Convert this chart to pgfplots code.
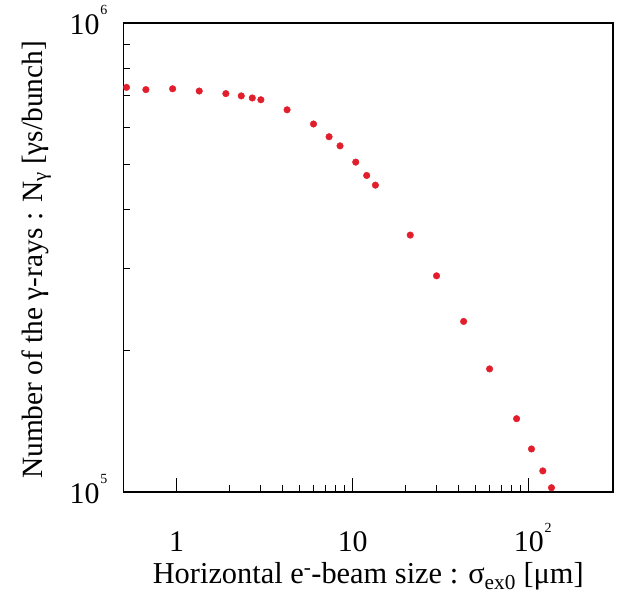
\documentclass[border=0pt]{standalone}
\usepackage{fontspec}
\setmainfont{Liberation Serif}
\usepackage{pgfplots}
\pgfplotsset{compat=1.18}
\definecolor{ptred}{RGB}{227,30,44}
\newcommand{\sups}[1]{\kern0.8bp\raisebox{0.66em}{\fontsize{14}{14}\selectfont #1}}
\begin{document}
\begin{tikzpicture}
\useasboundingbox (-123.5bp,-113bp) rectangle (494.5bp,492bp);
\begin{axis}[
  xmode=log, ymode=log,
  scale only axis,
  width=489.5bp, height=469bp,
  xmin=0.5, xmax=300,
  ymin=1e5, ymax=1e6,
  axis line style={line width=1.4bp, black},
  tick style={black, line width=0.9bp},
  major tick length=14bp,
  minor tick length=7bp,
  tick pos=left,
  tick align=inside,
  xtick={1,10,100},
  xticklabels={1,10,10\rlap{\sups{2}}},
  ytick={1e5,1e6},
  yticklabels={10\sups{5},10\sups{6}},
  xticklabel style={anchor=base, inner sep=0pt, text depth=0pt, yshift=-60bp, font=\fontsize{30}{31}\selectfont},
  yticklabel style={anchor=base east, inner sep=0pt, xshift=-16bp, yshift=-11.5bp, font=\fontsize{30}{31}\selectfont},
  xlabel={Horizontal e\textsuperscript{-}-beam size : σ\textsubscript{ex0} [μm]},
  ylabel={Number of the γ-rays : N\textsubscript{γ} [γs/bunch]},
  xlabel style={at={(axis description cs:0.5,-0.196)}, anchor=base, inner sep=0pt, text height=0.7em, font=\fontsize{30.5}{31}\selectfont},
  ylabel style={at={(axis description cs:-0.1645,0.495)}, anchor=base, inner sep=0pt, font=\fontsize{29.5}{31}\selectfont},
  clip=false,
]
\addplot[only marks, mark=*, mark size=3.3bp, mark options={fill=ptred, draw=ptred}] coordinates {
(0.52,7.29e5)
(0.67,7.21e5)
(0.95,7.24e5)
(1.345,7.16e5)
(1.905,7.07e5)
(2.33,6.99e5)
(2.69,6.92e5)
(3.01,6.86e5)
(4.24,6.53e5)
(5.99,6.09e5)
(7.34,5.72e5)
(8.47,5.47e5)
(10.4,5.05e5)
(12.0,4.73e5)
(13.45,4.51e5)
(21.2,3.53e5)
(29.9,2.89e5)
(42.6,2.31e5)
(59.8,1.83e5)
(85.1,1.433e5)
(103.4,1.235e5)
(119.9,1.109e5)
(134.3,1.021e5)
};
\end{axis}
\end{tikzpicture}
\end{document}
